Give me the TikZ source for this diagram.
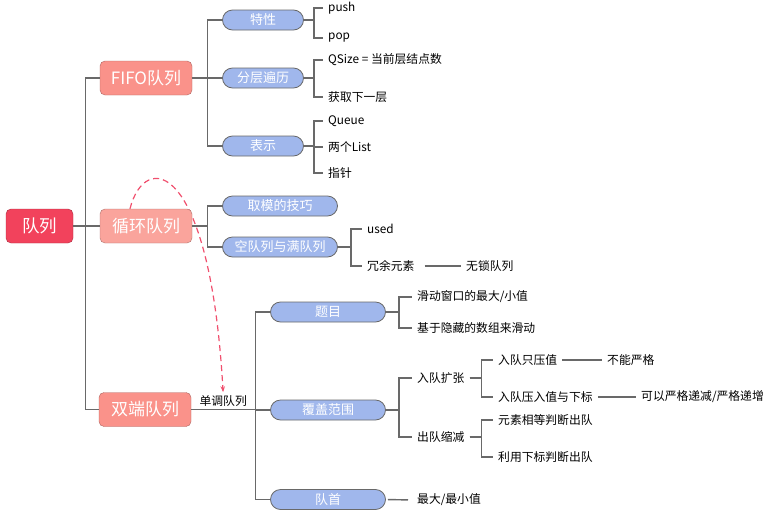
\documentclass[tikz,border=0pt]{standalone}
\usepackage{fontspec}
\setmainfont{Noto Sans CJK SC}
\usetikzlibrary{arrows.meta, backgrounds}
\definecolor{rootred}{RGB}{242,66,92}
\definecolor{salmon}{RGB}{250,146,138}
\definecolor{lightsalmon}{RGB}{250,164,156}
\definecolor{pillblue}{RGB}{160,183,236}
\definecolor{linegray}{RGB}{105,105,105}
\definecolor{dashred}{RGB}{240,80,110}

\tikzset{
  rootbox/.style={fill=rootred, draw=rootred!70!black, rounded corners=5pt, minimum width=67pt, minimum height=34pt, text=white, font=\fontsize{17.5}{20}\selectfont},
  mainbox/.style={fill=#1, draw=#1!70!black, rounded corners=5pt, minimum width=92pt, minimum height=34pt, text=white, font=\fontsize{17}{20}\selectfont},
  pill/.style={fill=pillblue, draw=linegray, thick, rounded corners=10pt, minimum width=#1, minimum height=20pt, inner sep=0pt, text=white, font=\fontsize{13}{15}\selectfont},
  leaf/.style={anchor=west, inner xsep=5pt, inner ysep=1pt, font=\fontsize{11.8}{14}\selectfont},
  link/.style={draw=linegray, line width=1.4pt},
}

\begin{document}
\begin{tikzpicture}[x=1pt, y=-1pt]
        \useasboundingbox (0,0) rectangle (766,517);
        % root and main branches
        \node[rootbox] (root) at (39.5,226) {队列};
        \node[mainbox=salmon] (fifo) at (146,78) {FIFO队列};
        \node[mainbox=lightsalmon] (cyc) at (146,226) {循环队列};
        \node[mainbox=salmon] (deque) at (145,409.5) {双端队列};
        \foreach \m in {fifo, cyc, deque} {
            \draw[link] (root.east) -- ++(12.5,0) |- (\m.west);
        }
        % FIFO queue
        \foreach \name/\txt/\y in {trait/特性/20, layer/分层遍历/78, repr/表示/146} {
            \node[pill=81pt] (\name) at (263,\y) {\txt};
            \draw[link] (fifo.east) -- ++(15,0) |- (\name.west);
        }
        \foreach \name/\txt/\y in {lpush/push/8, lpop/pop/38} {
            \node[leaf] (\name) at (323,\y) {\txt};
            \draw[link] (trait.east) -- ++(10,0) |- (\name.west);
        }
        \foreach \name/\txt/\y in {lqsize/{QSize = 当前层结点数}/60, lnext/获取下一层/97} {
            \node[leaf] (\name) at (323,\y) {\txt};
            \draw[link] (layer.east) -- ++(10,0) |- (\name.west);
        }
        \foreach \name/\txt/\y in {lqueue/Queue/121, llist/两个List/147, lptr/指针/173} {
            \node[leaf] (\name) at (323,\y) {\txt};
            \draw[link] (repr.east) -- ++(10,0) |- (\name.west);
        }
        % circular queue
        \foreach \name/\txt/\y in {modtrick/取模的技巧/206, emptyfull/空队列与满队列/247} {
            \node[pill=115pt] (\name) at (280,\y) {\txt};
            \draw[link] (cyc.east) -- ++(15,0) |- (\name.west);
        }
        \foreach \name/\txt/\y in {lused/used/229, lspare/冗余元素/266} {
            \node[leaf] (\name) at (362,\y) {\txt};
            \draw[link] (emptyfull.east) -- ++(13,0) |- (\name.west);
        }
        \node[leaf] (lockfree) at (461,266) {无锁队列};
        \draw[link, shorten <=5pt] (lspare.east) -- (lockfree.west);
        % deque
        \foreach \name/\txt/\y in {topic/题目/312, cover/覆盖范围/410, head/队首/499.5} {
            \node[pill=115pt] (\name) at (328,\y) {\txt};
        }
        \draw[link] (deque.east) -- node[above=1pt, inner sep=1pt, font=\fontsize{11.8}{14}\selectfont] (mono) {单调队列} ++(64,0) |- (topic.west);
        \draw[link] (deque.east) -- ++(64,0) |- (cover.west);
        \draw[link] (deque.east) -- ++(64,0) |- (head.west);
        \foreach \name/\txt/\y in {lslide/{滑动窗口的最大/小值}/297, lhidden/基于隐藏的数组来滑动/328} {
            \node[leaf] (\name) at (412,\y) {\txt};
            \draw[link] (topic.east) -- ++(13,0) |- (\name.west);
        }
        \foreach \name/\txt/\y in {lgrow/入队扩张/378, lshrink/出队缩减/437} {
            \node[leaf] (\name) at (412,\y) {\txt};
            \draw[link] (cover.east) -- ++(13,0) |- (\name.west);
        }
        \node[leaf] (lmaxmin) at (412,500) {最大/最小值};
        \draw[link, shorten <=2pt, shorten >=4pt] (head.east) -- (lmaxmin.west);
        \foreach \name/\txt/\y in {lvalonly/入队只压值/360, lvalidx/入队压入值与下标/397} {
            \node[leaf] (\name) at (493,\y) {\txt};
            \draw[link] (lgrow.east) -- ++(12,0) |- (\name.west);
        }
        \foreach \name/\txt/\y in {lequal/元素相等判断出队/420, lindex/利用下标判断出队/457} {
            \node[leaf] (\name) at (493,\y) {\txt};
            \draw[link] (lshrink.east) -- ++(12,0) |- (\name.west);
        }
        \node[leaf] (lnostrict) at (602,360) {不能严格};
        \draw[link] (lvalonly.east) -- (lnostrict.west);
        \node[leaf] (lstrict) at (636,397) {可以严格递减/严格递增};
        \draw[link] (lvalidx.east) -- (lstrict.west);
        % dashed hint arrow
        \begin{scope}[on background layer]
            \draw[dashred, line width=1.2pt, dash pattern=on 6pt off 4pt, -{Stealth[length=6pt]}, shorten >=2pt]
                (cyc.133) .. controls (145,150) and (210,160) .. (mono.north);
        \end{scope}
    \end{tikzpicture}
\end{document}
